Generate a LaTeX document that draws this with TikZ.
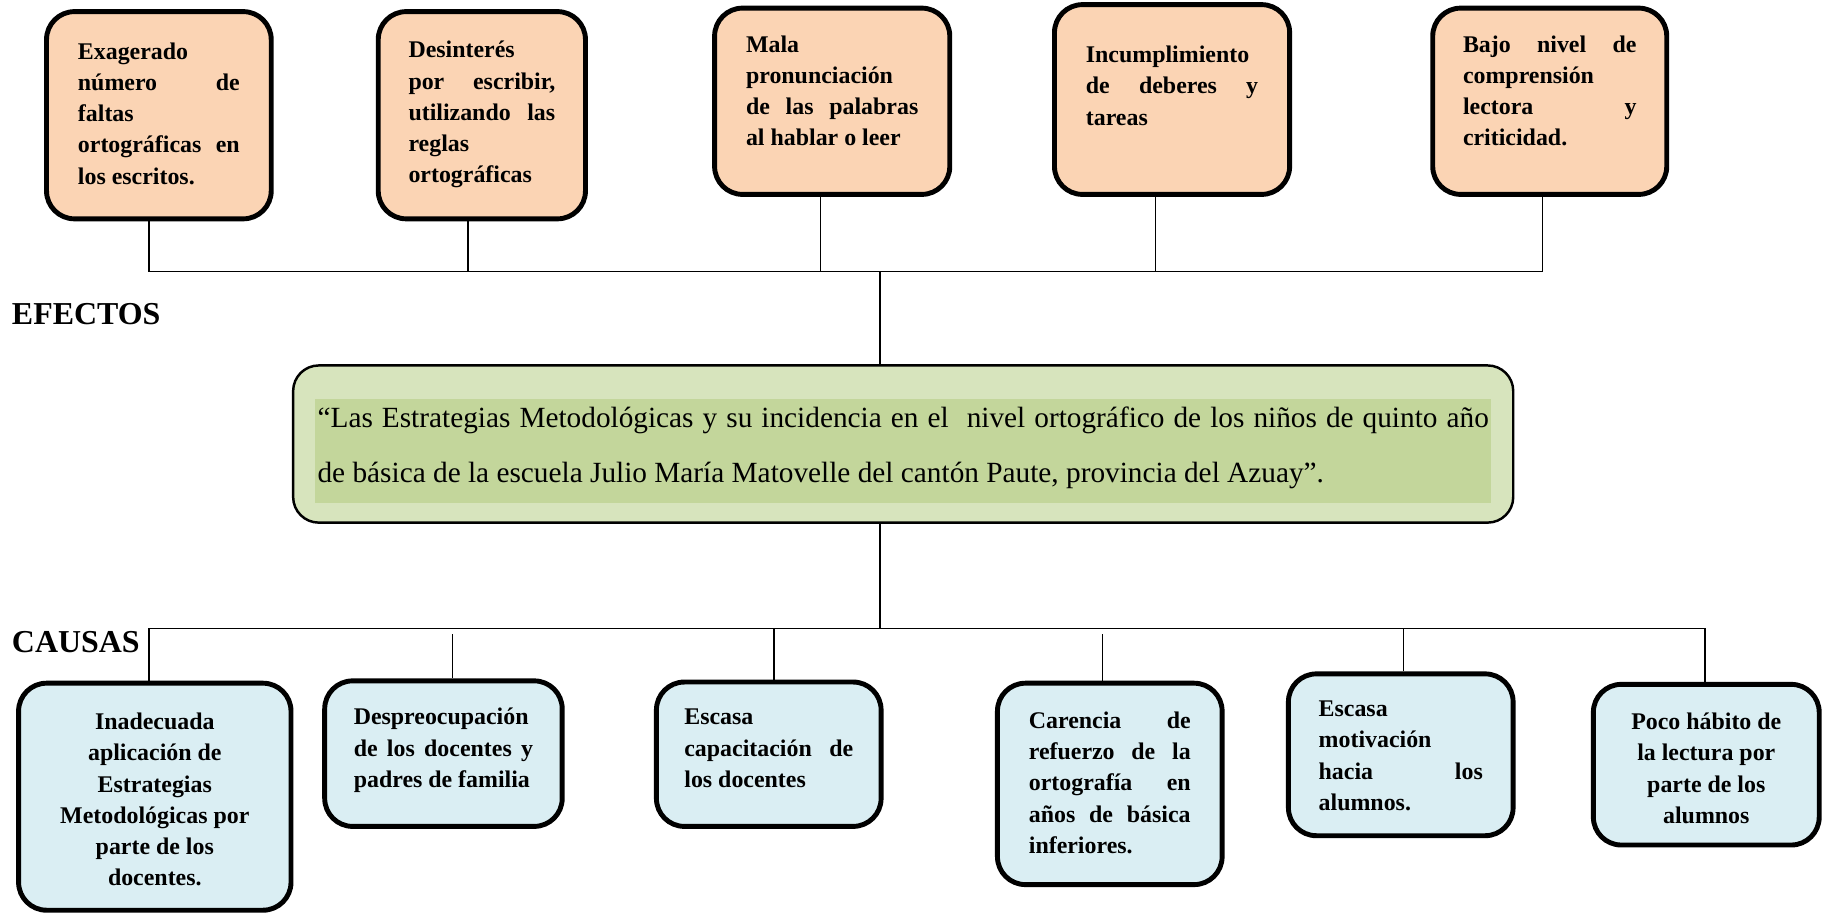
\documentclass[tikz,border=0pt]{standalone}
\usepackage{fontspec}
\setmainfont{Liberation Serif}
\usepackage{tikz}
\definecolor{naranja}{HTML}{FBD4B4}
\definecolor{celeste}{HTML}{DAEEF3}
\definecolor{verdeclaro}{HTML}{D7E4BD}
\definecolor{verdeosc}{HTML}{C3D69B}
\newcommand{\cajatexto}[3]{\parbox[c][#1][t]{#2}{\strut#3}}
\tikzset{
  efecto/.style={draw,line width=3pt,rounded corners=0.6cm,fill=naranja,inner sep=0pt,
    font=\fontsize{14.6pt}{19.1pt}\selectfont\bfseries},
  causa/.style={efecto,fill=celeste},
  tema/.style={draw,line width=1.5pt,rounded corners=0.55cm,fill=verdeclaro,inner sep=0pt,
    minimum width=26.2cm,minimum height=3.375cm,font=\fontsize{17.9pt}{33.4pt}\selectfont},
  titulo/.style={anchor=west,inner sep=0pt,font=\fontsize{19.5pt}{22pt}\selectfont\bfseries},
  enlace/.style={line width=0.8pt},
}

\begin{document}
\begin{tikzpicture}[x=0.025cm,y=-0.025cm]
\useasboundingbox (0,0) rectangle (1568,784);
% efectos
\node[efecto,minimum width=4.825cm,minimum height=4.45cm] (e1) at (136.5,99)
  {\cajatexto{3.35cm}{3.475cm}{Exagerado\linebreak número de\linebreak faltas\linebreak ortográficas en\linebreak los escritos.}};
\node[efecto,minimum width=4.45cm,minimum height=4.45cm] (e2) at (414,99)
  {\cajatexto{3.4cm}{3.15cm}{Desinterés\linebreak por escribir,\linebreak utilizando las\linebreak reglas\linebreak ortográficas}};
\node[efecto,minimum width=5.05cm,minimum height=4cm] (e3) at (715,87)
  {\cajatexto{3.05cm}{3.7cm}{Mala\linebreak pronunciación\linebreak de las palabras\linebreak al hablar o leer}};
\node[efecto,minimum width=5.05cm,minimum height=4.075cm] (e4) at (1007,85.5)
  {\cajatexto{2.525cm}{3.7cm}{Incumplimiento\linebreak de deberes y\linebreak tareas}};
\node[efecto,minimum width=5.025cm,minimum height=4cm] (e5) at (1331.5,87)
  {\cajatexto{3.05cm}{3.725cm}{Bajo nivel de\linebreak comprensión\linebreak lectora y\linebreak criticidad.}};
\node[titulo] (efectos) at (10,270) {EFECTOS};
% problema
\node[tema] (tema) at (776,381.5) {\setlength{\fboxsep}{0.05cm}\raisebox{-0.3cm}[0pt][0pt]{\colorbox{verdeosc}{\parbox[c][2.15cm][c]{25.15cm}{%
  “Las Estrategias Metodológicas y su incidencia en el~ nivel ortográfico de los niños de quinto año\linebreak
  de básica de la escuela Julio María Matovelle del cantón Paute, provincia del Azuay”.\par\vspace{0.12cm}}}}};
% causas
\node[titulo] (causas) at (10,552) {CAUSAS};
\node[causa,minimum width=5.85cm,minimum height=4.875cm] (c1) at (133,684.5)
  {\cajatexto{3.825cm}{4.5cm}{\centering Inadecuada\\ aplicación de\\ Estrategias\\ Metodológicas por\\ parte de los\\ docentes.}};
\node[causa,minimum width=5.1cm,minimum height=3.125cm] (c2) at (381,647.5)
  {\cajatexto{2.175cm}{3.85cm}{Despreocupación\linebreak de los docentes y\linebreak padres de familia}};
\node[causa,minimum width=4.825cm,minimum height=3.1cm] (c3) at (660.5,648)
  {\cajatexto{2.2cm}{3.625cm}{Escasa\linebreak capacitación de\linebreak los docentes}};
\node[causa,minimum width=4.825cm,minimum height=4.325cm] (c4) at (953.5,673.5)
  {\cajatexto{3.325cm}{3.475cm}{Carencia de\linebreak refuerzo de la\linebreak ortografía en\linebreak años de básica\linebreak inferiores.}};
\node[causa,minimum width=4.825cm,minimum height=3.475cm] (c5) at (1203.5,648.5)
  {\cajatexto{2.575cm}{3.525cm}{Escasa\linebreak motivación\linebreak hacia los\linebreak alumnos.}};
\node[causa,minimum width=4.85cm,minimum height=3.45cm] (c6) at (1466,657)
  {\cajatexto{2.45cm}{4cm}{\centering Poco hábito de\\ la lectura por\\ parte de los\\ alumnos}};
% conectores
\coordinate (arriba) at (756,233);
\coordinate (abajo) at (756,540);
\foreach \n/\dx in {e1/-0.2125,e2/-0.3,e3/-0.25,e4/-0.35,e5/-0.1625}
  \draw[enlace] ([xshift=\dx cm]\n.south) |- (arriba);
\draw[enlace] (arriba) -- (arriba |- tema.north);
\draw[enlace] (abajo |- tema.south) -- (abajo);
\foreach \n/\dx in {c1/-0.125,c3/0.1125,c5/0.0625,c6/-0.025}
  \draw[enlace] ([xshift=\dx cm]\n.north) |- (abajo);
\coordinate (g2) at (389,545);
\coordinate (g4) at (947,545);
\draw[enlace] (g2) -- (g2 |- c2.north);
\draw[enlace] (g4) -- (g4 |- c4.north);
\end{tikzpicture}
\end{document}
